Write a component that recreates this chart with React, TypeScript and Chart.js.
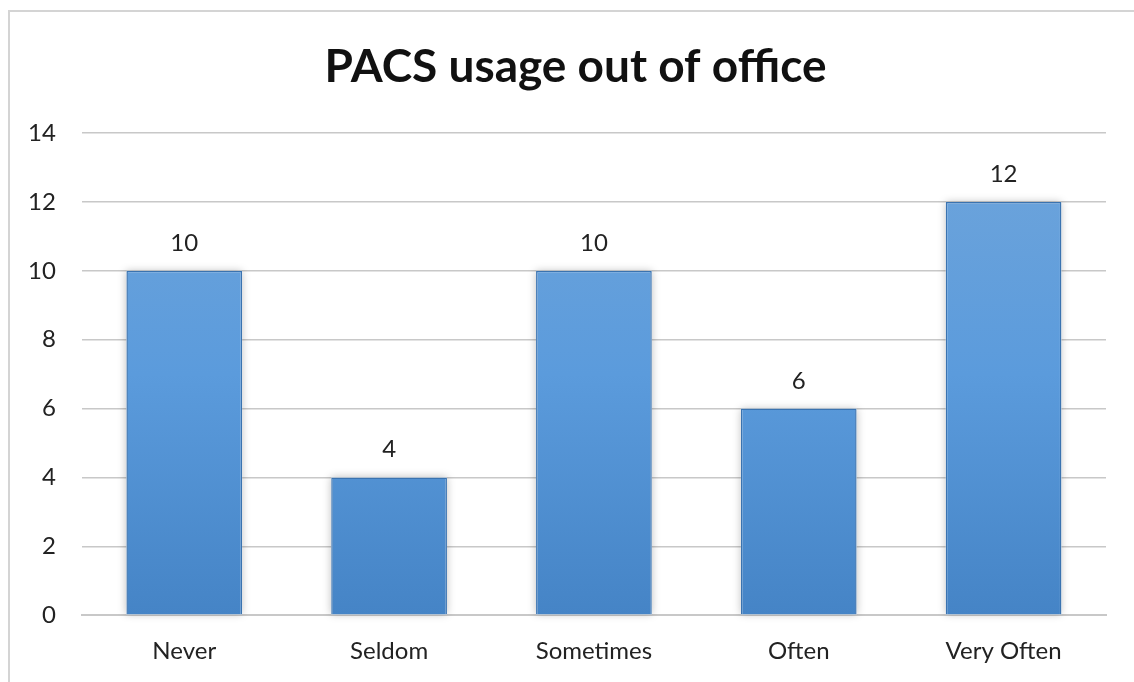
import React, { useEffect, useRef } from "react";
import { Chart, registerables } from "chart.js";

Chart.register(...registerables);

const categories = ["Never", "Seldom", "Sometimes", "Often", "Very Often"];
const counts = [10, 4, 10, 6, 12];
const yTicks = [0, 2, 4, 6, 8, 10, 12, 14];
const titleText = "PACS usage out of office";

const FONT = "Lato, 'Open Sans', sans-serif";

// Frame lines, centred title and value labels above each bar
const decorPlugin = {
  id: "decor",
  beforeDraw(chart: any) {
    const { ctx } = chart;
    ctx.save();
    ctx.fillStyle = "#ffffff";
    ctx.fillRect(0, 0, chart.width, chart.height);
    ctx.strokeStyle = "#d4d4d4";
    ctx.lineWidth = 2;
    ctx.beginPath();
    ctx.moveTo(9, chart.height);
    ctx.lineTo(9, 11);
    ctx.lineTo(chart.width, 11);
    ctx.stroke();

    // title centred across the framed area
    ctx.fillStyle = "#111111";
    ctx.font = `bold 46px ${FONT}`;
    ctx.textAlign = "center";
    ctx.textBaseline = "middle";
    ctx.fillText(titleText, (9 + chart.width + 8) / 2, 67);
    ctx.restore();
  },
  beforeDatasetsDraw(chart: any) {
    // soft shadow behind bars
    const { ctx } = chart;
    const meta = chart.getDatasetMeta(0);
    ctx.save();
    meta.data.forEach((bar: any) => {
      const half = bar.width / 2;
      ctx.shadowColor = "rgba(0,0,0,0.25)";
      ctx.shadowBlur = 8;
      ctx.shadowOffsetX = 0;
      ctx.shadowOffsetY = 0;
      ctx.fillStyle = "#ffffff";
      ctx.fillRect(bar.x - half, bar.y, bar.width, bar.base - bar.y);
    });
    ctx.restore();
  },
  afterDatasetsDraw(chart: any) {
    const { ctx } = chart;
    const meta = chart.getDatasetMeta(0);
    ctx.save();
    ctx.fillStyle = "#222222";
    ctx.font = `24px ${FONT}`;
    ctx.textAlign = "center";
    ctx.textBaseline = "alphabetic";
    meta.data.forEach((bar: any, i: number) => {
      ctx.fillText(String(counts[i]), bar.x, bar.y - 20);
    });
    ctx.restore();
  },
};

export default function App() {
  const canvasRef = useRef<HTMLCanvasElement | null>(null);

  useEffect(() => {
    const canvas = canvasRef.current;
    if (!canvas) return;
    const chart = new Chart(canvas, {
      type: "bar",
      data: {
        labels: categories,
        datasets: [
          {
            data: counts,
            backgroundColor: (c: any) => {
              const area = c.chart.chartArea;
              if (!area) return "#5b9bd5";
              const el = c.element;
              const top = el && typeof el.y === "number" ? el.y : area.top;
              const bottom = el && typeof el.base === "number" ? el.base : area.bottom;
              if (!(bottom > top)) return "#5b9bd5";
              const g = c.chart.ctx.createLinearGradient(0, top, 0, bottom);
              g.addColorStop(0, "#6fa5db");
              g.addColorStop(0.5, "#5b9bdc");
              g.addColorStop(1, "#4584c6");
              return g;
            },
            borderColor: "#3a73b0",
            borderWidth: 1.5,
            barPercentage: 0.565,
            categoryPercentage: 1,
          },
        ],
      },
      options: {
        animation: false,
        responsive: false,
        maintainAspectRatio: false,
        layout: { padding: { top: 133, left: 2, right: 28, bottom: -6 } },
        plugins: {
          legend: { display: false },
          tooltip: { enabled: false },
          title: { display: false },
        },
        scales: {
          x: {
            grid: { display: false, drawTicks: false },
            border: { display: true, color: "#c8c8c8", width: 2 },
            ticks: {
              color: "#222222",
              font: { family: FONT, size: 24 },
              padding: 22,
            },
          },
          y: {
            min: 0,
            max: 14,
            afterBuildTicks: (axis: any) => {
              axis.ticks = yTicks.map((v) => ({ value: v }));
            },
            grid: { color: "#c8c8c8", lineWidth: 1.5, drawTicks: false },
            border: { display: false },
            ticks: {
              color: "#222222",
              font: { family: FONT, size: 24 },
              padding: 26,
            },
          },
        },
      },
      plugins: [decorPlugin],
    });
    return () => chart.destroy();
  }, []);

  return (
    <div style={{ position: "fixed", left: 0, top: 0, width: 1134, height: 682, background: "#fff" }}>
      <canvas ref={canvasRef} width={1134} height={682} style={{ display: "block" }} />
    </div>
  );
}
